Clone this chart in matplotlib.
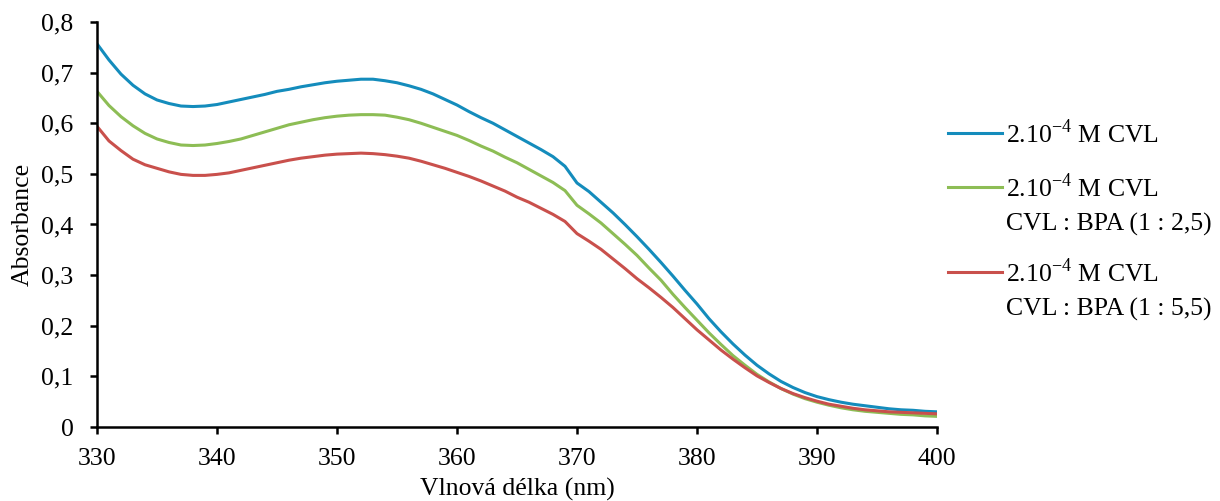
import matplotlib
matplotlib.use('Agg')
import matplotlib.pyplot as plt
from matplotlib.lines import Line2D
from matplotlib.ticker import FuncFormatter

# wavelength grid, 1 nm step
wavelength = list(range(330, 401))

cvl = [0.757, 0.725, 0.697, 0.675, 0.658, 0.646, 0.639, 0.634, 0.633, 0.634,
       0.637, 0.642, 0.647, 0.652, 0.657, 0.663, 0.667, 0.672, 0.676, 0.680,
       0.683, 0.685, 0.687, 0.687, 0.684, 0.680, 0.674, 0.667, 0.658, 0.647,
       0.636, 0.623, 0.611, 0.600, 0.587, 0.574, 0.561, 0.548, 0.534, 0.515,
       0.482, 0.465, 0.444, 0.423, 0.400, 0.376, 0.351, 0.325, 0.298, 0.270,
       0.243, 0.214, 0.188, 0.164, 0.142, 0.122, 0.105, 0.090, 0.078, 0.068,
       0.060, 0.054, 0.049, 0.045, 0.042, 0.039, 0.036, 0.034, 0.033, 0.031,
       0.030]

cvl_bpa_25 = [0.663, 0.635, 0.613, 0.595, 0.580, 0.569, 0.562, 0.557, 0.556, 0.557,
              0.560, 0.564, 0.569, 0.576, 0.583, 0.590, 0.597, 0.602, 0.607, 0.611,
              0.614, 0.616, 0.617, 0.617, 0.616, 0.612, 0.607, 0.600, 0.592, 0.584,
              0.576, 0.566, 0.555, 0.545, 0.533, 0.522, 0.509, 0.496, 0.483, 0.467,
              0.438, 0.421, 0.403, 0.382, 0.361, 0.339, 0.314, 0.290, 0.262, 0.236,
              0.211, 0.186, 0.163, 0.141, 0.122, 0.104, 0.089, 0.076, 0.065, 0.056,
              0.049, 0.043, 0.038, 0.034, 0.031, 0.029, 0.027, 0.025, 0.024, 0.022,
              0.021]

cvl_bpa_55 = [0.594, 0.565, 0.546, 0.529, 0.518, 0.511, 0.504, 0.499, 0.497, 0.497,
              0.499, 0.502, 0.507, 0.512, 0.517, 0.522, 0.527, 0.531, 0.534, 0.537,
              0.539, 0.540, 0.541, 0.540, 0.538, 0.535, 0.531, 0.525, 0.518, 0.511,
              0.503, 0.495, 0.486, 0.476, 0.466, 0.454, 0.444, 0.432, 0.420, 0.406,
              0.382, 0.367, 0.351, 0.332, 0.313, 0.293, 0.275, 0.256, 0.236, 0.214,
              0.192, 0.172, 0.152, 0.134, 0.117, 0.101, 0.088, 0.076, 0.066, 0.058,
              0.051, 0.045, 0.041, 0.037, 0.034, 0.032, 0.030, 0.029, 0.028, 0.027,
              0.026]

labels = ['2.10$^{\\mathregular{-4}}$ M CVL',
          '2.10$^{\\mathregular{-4}}$ M CVL\nCVL : BPA (1 : 2,5)',
          '2.10$^{\\mathregular{-4}}$ M CVL\nCVL : BPA (1 : 5,5)']
colors = ['#148cbc', '#8dbd55', '#c9504c']

plt.rcParams['font.family'] = ['Liberation Serif', 'DejaVu Serif']
plt.rcParams['mathtext.fontset'] = 'custom'
plt.rcParams['mathtext.rm'] = 'Liberation Serif'
fs = 18.5

fig = plt.figure(figsize=(12.2, 5.01), dpi=100)
ax = fig.add_axes([97 / 1220, 1 - 427 / 501, 840 / 1220, 405 / 501])

for y, c in zip([cvl, cvl_bpa_25, cvl_bpa_55], colors):
    ax.plot(wavelength, y, color=c, lw=2.2, solid_joinstyle='round')

ax.set_xlim(330, 400)
ax.set_ylim(0, 0.8)
ax.set_xticks(range(330, 401, 10))
ax.set_yticks([i / 10 for i in range(9)])
ax.yaxis.set_major_formatter(FuncFormatter(
    lambda v, p: '0' if v == 0 else ('%.1f' % v).replace('.', ',')))
for s in ['top', 'right']:
    ax.spines[s].set_visible(False)
for s in ['left', 'bottom']:
    ax.spines[s].set_linewidth(1.8)
ax.tick_params(direction='out', length=5, width=1.8, labelsize=fs)
ax.tick_params(axis='x', pad=10)
ax.tick_params(axis='y', pad=12)
ax.set_xlabel('Vlnová délka (nm)', fontsize=fs, labelpad=6)
ax.set_ylabel('Absorbance', fontsize=fs, labelpad=5)

# legend drawn by hand so the line sits at the first text row
leg_y = [133, 187, 272]
dy = 36
for lab, c, yp in zip(labels, colors, leg_y):
    yf = 1 - yp / 501
    fig.add_artist(Line2D([948 / 1220, 1002 / 1220], [yf, yf], color=c, lw=2.2,
                          transform=fig.transFigure))
    for i, line in enumerate(lab.split('\n')):
        fig.text(1006 / 1220, 1 - (yp + 1 + i * dy) / 501, line,
                 fontsize=fs, va='center', ha='left')

plt.savefig('out.png', dpi=100)
